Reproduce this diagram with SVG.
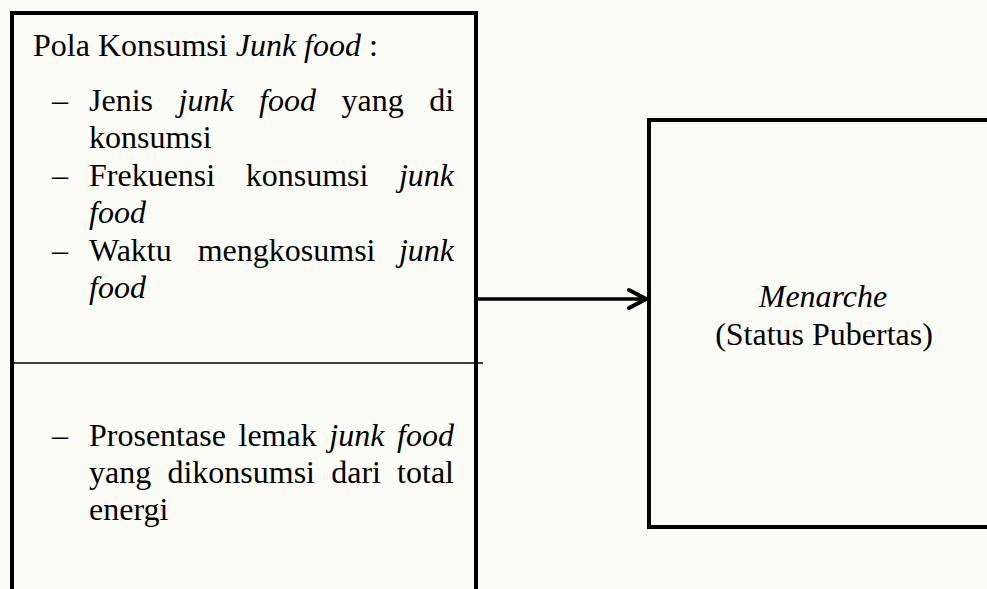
<svg xmlns="http://www.w3.org/2000/svg" width="987" height="589" viewBox="0 0 987 589">
  <defs>
    <style>
      .box { fill: none; stroke: #000; stroke-width: 4; }
      .rule { stroke: #000; stroke-width: 1.5; }
      .link { stroke: #000; stroke-width: 3.5; fill: none; }
      text { font-family: "Liberation Serif", "Times New Roman", serif; font-size: 32px; fill: #000; }
      .it { font-style: italic; }
    </style>
    <marker id="chevron" markerUnits="userSpaceOnUse" markerWidth="26" markerHeight="26" viewBox="0 0 26 26" refX="22" refY="13" orient="auto">
      <polyline points="5,4 22,13 5,22" fill="none" stroke="#000" stroke-width="4" stroke-linecap="round" stroke-linejoin="miter"/>
    </marker>
  </defs>

  <rect width="987" height="589" fill="#fcfcf7"/>

  <!-- Left node: junk food consumption pattern -->
  <g id="pola-konsumsi">
    <rect class="box" x="12" y="13" width="464" height="600"/>
    <line class="rule" x1="12" y1="363" x2="483" y2="363"/>
    <text x="33" y="56">Pola Konsumsi <tspan class="it">Junk food</tspan> :</text>

    <text x="52" y="111">–</text>
    <text y="111"><tspan x="89">Jenis</tspan><tspan class="it" x="178.5">junk</tspan><tspan class="it" x="259.1">food</tspan><tspan x="341.5">yang</tspan><tspan x="429.2">di</tspan></text>
    <text x="89" y="148">konsumsi</text>

    <text x="52" y="186">–</text>
    <text y="186"><tspan x="89">Frekuensi</tspan><tspan x="245.7">konsumsi</tspan><tspan class="it" x="398.9">junk</tspan></text>
    <text class="it" x="89" y="223">food</text>

    <text x="52" y="261">–</text>
    <text y="261"><tspan x="89">Waktu</tspan><tspan x="197.7">mengkosumsi</tspan><tspan class="it" x="398.9">junk</tspan></text>
    <text class="it" x="89" y="298">food</text>

    <text x="52" y="446">–</text>
    <text y="446"><tspan x="89">Prosentase</tspan><tspan x="238.5">lemak</tspan><tspan class="it" x="329.3">junk</tspan><tspan class="it" x="397.1">food</tspan></text>
    <text y="483"><tspan x="89">yang</tspan><tspan x="167.4">dikonsumsi</tspan><tspan x="331.2">dari</tspan><tspan x="397.1">total</tspan></text>
    <text x="89" y="520">energi</text>
  </g>

  <!-- Right node: menarche -->
  <g id="menarche">
    <rect class="box" x="649" y="120" width="360" height="407"/>
    <text class="it" x="823" y="307" text-anchor="middle">Menarche</text>
    <text x="824" y="345" text-anchor="middle">(Status Pubertas)</text>
  </g>

  <!-- Connectors -->
  <g id="connectors">
    <line class="link" x1="477" y1="299" x2="646" y2="299" marker-end="url(#chevron)"/>
  </g>
</svg>
